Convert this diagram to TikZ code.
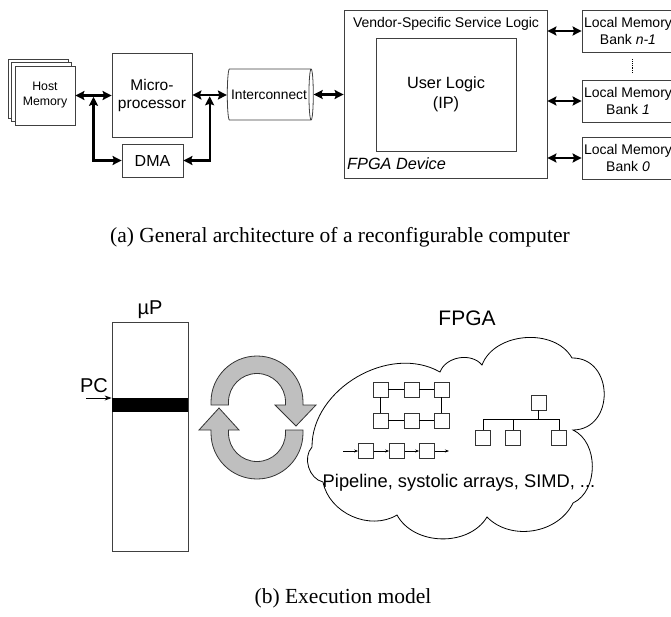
\documentclass[tikz,border=0pt]{standalone}
\usepackage{fontspec}
\setmainfont{Liberation Serif}
\setsansfont{Liberation Sans}
\usetikzlibrary{arrows.meta,positioning,shapes.geometric,shadows,calc}

\newcommand{\sz}[2]{\fontsize{#1}{#2}\selectfont}

\tikzset{
	box/.style={draw=black!75,line width=0.8pt,fill=white,align=center,inner sep=0pt,font=\sffamily},
	bus/.style={line width=2.2pt,arrows={Stealth[length=9pt,width=9pt,inset=1.5pt]-Stealth[length=9pt,width=9pt,inset=1.5pt]}},
	ptr/.style={line width=0.8pt,-{Stealth[length=7pt,width=5pt]}},
	tiny/.style={line width=0.7pt,-{Stealth[length=4pt,width=3pt]}},
	pe/.style={draw=black!80,line width=0.7pt,minimum size=15pt,inner sep=0pt},
	ring/.style={draw=black!80,line width=0.8pt,fill=gray!50},
	puff/.style={bend left=#1},
	capt/.style={font=\rmfamily\sz{21.5}{24}}
}

\begin{document}
\begin{tikzpicture}[x=1pt,y=1pt]
\useasboundingbox (0,0) rectangle (671,-616);

% (a) architecture
\node[box,minimum width=60pt,minimum height=59pt,font=\sffamily\sz{12.3}{15},
	double copy shadow={shadow xshift=-3.5pt,shadow yshift=3.5pt}] (host) at (45,-95.5) {Host\\Memory};
\node[box,minimum width=80pt,minimum height=84pt,font=\sffamily\sz{15.5}{18}] (micro) at (152,-95) {Micro-\\processor};
\node[box,minimum width=61pt,minimum height=33pt,font=\sffamily\sz{16}{18}] (dma) at (152.5,-160.5) {DMA};
\node[box,cylinder,shape border rotate=0,aspect=0.45,minimum width=51pt,minimum height=86pt,
	font=\sffamily\sz{13.8}{16}] (inter) at (269,-94.5) {Interconnect};

\node[box,minimum width=203pt,minimum height=168pt] (fpga) at (445.5,-94) {};
\node[box,minimum width=140pt,minimum height=113pt,font=\sffamily\sz{16.3}{20}] (user) at (446,-94.5) {User Logic\\(IP)};
\node[font=\sffamily\sz{14}{16}] (vendor) at (446,-24) {Vendor-Specific Service Logic};
\node[font=\sffamily\itshape\sz{16.3}{18},anchor=west,inner sep=0pt] (dev) at (347,-164) {FPGA Device};

\node[box,minimum width=92pt,minimum height=42pt,font=\sffamily\sz{14}{17}] (memtop) at (628,-31) {Local Memory\\Bank \textit{n-1}};
\node[box,minimum width=92pt,minimum height=42pt,font=\sffamily\sz{14}{17}] (memmid) at (628,-101) {Local Memory\\Bank \textit{1}};
\node[box,minimum width=92pt,minimum height=42pt,font=\sffamily\sz{14}{17}] (membot) at (628,-158) {Local Memory\\Bank \textit{0}};

\coordinate (j1) at ($(host.east)!0.5!(micro.west)+(0,-1.5)$);
\coordinate (j2) at ($(micro.east)!0.5!(inter.west)+(0,-1.5)$);

\draw[bus] (host.east) -- (host.east -| micro.west);
\draw[bus] (micro.east) -- (micro.east -| inter.west);
\draw[bus] (j1) |- (dma.west);
\draw[bus] (j2) |- (dma.east);
\draw[bus] (inter.east) -- (inter.east -| fpga.west);
\foreach \m in {memtop,memmid,membot}
	\draw[bus] (\m.west -| fpga.east) -- (\m.west);
\draw[densely dotted,line width=0.8pt] ([xshift=4pt,yshift=-7pt]memtop.south) -- ([xshift=4pt,yshift=7pt]memmid.north);

\node[capt] (capa) at (340,-237) {(a) General architecture of a reconfigurable computer};

% (b) execution model
\node[box,minimum width=76pt,minimum height=229pt] (upcol) at (150,-436.5) {};
\node[font=\sffamily\sz{20}{22}] (uplbl) at (150,-310) {µP};
\node[fill=black,minimum width=76pt,minimum height=14pt,inner sep=0pt] (pcbar) at (150,-405) {};
\node[font=\sffamily\sz{20}{22}] (pc) at (94,-386) {PC};
\coordinate (pcin) at (86,-398);
\draw[ptr] (pcin) -- (pcin -| upcol.west);

% turning arrows
\draw[ring] (211,-405) -- (211,-402) arc[start angle=180,end angle=0,radius=46]
	-- (303,-405) -- (316,-405) -- (296,-426) -- (275,-405) -- (285.5,-405)
	-- (285.5,-402) arc[start angle=0,end angle=180,radius=28.5] -- (228.5,-405) -- cycle;
\draw[ring] (303,-430) -- (303,-433) arc[start angle=0,end angle=-180,radius=46]
	-- (211,-430) -- (199,-430) -- (219,-408) -- (239,-430) -- (228.5,-430)
	-- (228.5,-433) arc[start angle=180,end angle=360,radius=28.5] -- (285.5,-430) -- cycle;

\node[font=\sffamily\sz{21}{23}] (fpgalbl) at (467,-318) {FPGA};
\draw[line width=0.8pt] (312,-447) to[puff=60] (440,-372) to[puff=60] (482,-365)
	to[puff=65] (572,-358) to[puff=90,looseness=1.5] (573,-430)
	to[puff=65] (573,-503) to[puff=55] (487,-517) to[puff=60] (397,-515)
	to[puff=55] (323,-482) to[puff=60] (312,-447) -- cycle;

% systolic array
\foreach \c/\x in {1/380.5,2/411.5,3/441.5}{
	\node[pe] (sa\c) at (\x,-389.5) {};
	\node[pe] (sb\c) at (\x,-420.5) {};
}
\draw[line width=0.7pt] (sa1) -- (sa2) (sa2) -- (sa3) (sb1) -- (sb2) (sb2) -- (sb3)
	(sa1) -- (sb1) (sa3) -- (sb3);

% pipeline
\foreach \c/\x in {1/366,2/397,3/427}
	\node[pe] (pp\c) at (\x,-451) {};
\coordinate (ppin) at (343,-451);
\coordinate (ppout) at (449,-451);
\draw[tiny] (ppin) -- (pp1);
\draw[tiny] (pp1) -- (pp2);
\draw[tiny] (pp2) -- (pp3);
\draw[tiny] (pp3) -- (ppout);

% tree
\node[pe] (root) at (538.5,-402.5) {};
\foreach \c/\x in {1/483,2/513,3/559}
	\node[pe] (leaf\c) at (\x,-438) {};
\coordinate (bar) at ($(leaf1.north)+(0,11)$);
\draw[line width=0.7pt] (leaf1.north) -- (bar) -| (leaf3.north)
	(leaf2.north) -- (leaf2.north |- bar) (root.south) -- (root.south |- bar);

\node[font=\sffamily\sz{18.3}{20}] (kinds) at (459,-483) {Pipeline, systolic arrays, SIMD, ...};

\node[capt] (captb) at (343,-598) {(b) Execution model};
\end{tikzpicture}
\end{document}
